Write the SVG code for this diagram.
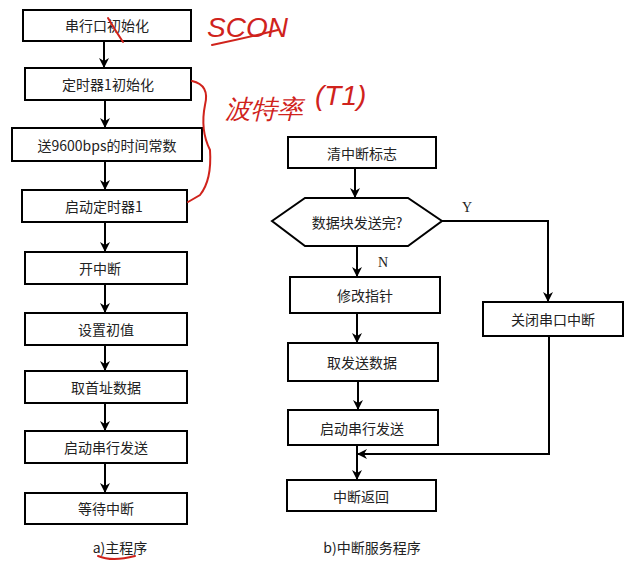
<svg xmlns="http://www.w3.org/2000/svg" width="634" height="575" viewBox="0 0 634 575">
<defs>
<marker id="ah" markerWidth="10" markerHeight="10" refX="9" refY="5" orient="auto" markerUnits="userSpaceOnUse">
<path d="M0,0 L10,5 L0,10 L3,5 Z" fill="#000"/>
</marker>
<style>
.b{fill:#fff;stroke:#000;stroke-width:2}
.t{font-family:"Noto Sans CJK SC","Liberation Serif",serif;font-size:14px;fill:#222;text-anchor:middle;dominant-baseline:central}
.c{fill:none;stroke:#000;stroke-width:2}
.r{fill:none;stroke:#d0231c;stroke-width:2;stroke-linecap:round}
.rt{font-family:"Liberation Sans",sans-serif;fill:#d0231c;font-style:italic}
</style>
</defs>
<rect width="634" height="575" fill="#fff"/>
<g id="n1"><rect class="b" x="23" y="10" width="168" height="31"/><text class="t" x="107" y="25">串行口初始化</text></g>
<g id="n2"><rect class="b" x="25" y="68" width="166" height="32"/><text class="t" x="108" y="84">定时器1初始化</text></g>
<g id="n3"><rect class="b" x="12" y="128" width="190" height="33"/><text class="t" x="107" y="145">送9600bps的时间常数</text></g>
<g id="n4"><rect class="b" x="22" y="190" width="165" height="32"/><text class="t" x="104" y="206">启动定时器1</text></g>
<g id="n5"><rect class="b" x="25" y="252" width="162" height="32"/><text class="t" x="100" y="268">开中断</text></g>
<g id="n6"><rect class="b" x="25" y="313" width="162" height="32"/><text class="t" x="106" y="329">设置初值</text></g>
<g id="n7"><rect class="b" x="25" y="371" width="162" height="32"/><text class="t" x="106" y="387">取首址数据</text></g>
<g id="n8"><rect class="b" x="25" y="431" width="162" height="32"/><text class="t" x="106" y="447">启动串行发送</text></g>
<g id="n9"><rect class="b" x="25" y="493" width="162" height="31"/><text class="t" x="106" y="508">等待中断</text></g>
<g id="r1"><rect class="b" x="288" y="137" width="148" height="31"/><text class="t" x="362" y="153">清中断标志</text></g>
<g id="r2"><polygon class="b" points="272,221 305,198 408,198 442,221 408,246 305,246"/><text class="t" x="357" y="222">数据块发送完?</text></g>
<g id="r3"><rect class="b" x="290" y="277" width="150" height="36"/><text class="t" x="365" y="295">修改指针</text></g>
<g id="r4"><rect class="b" x="483" y="302" width="140" height="34"/><text class="t" x="553" y="319">关闭串口中断</text></g>
<g id="r5"><rect class="b" x="288" y="343" width="150" height="38"/><text class="t" x="362" y="362">取发送数据</text></g>
<g id="r6"><rect class="b" x="288" y="410" width="150" height="35"/><text class="t" x="362" y="428">启动串行发送</text></g>
<g id="r7"><rect class="b" x="287" y="480" width="149" height="31"/><text class="t" x="361" y="496">中断返回</text></g>
<g id="connectors">
<line class="c" x1="104" y1="41" x2="104" y2="67" marker-end="url(#ah)"/>
<line class="c" x1="105" y1="100" x2="105" y2="127" marker-end="url(#ah)"/>
<line class="c" x1="105" y1="161" x2="105" y2="189" marker-end="url(#ah)"/>
<line class="c" x1="105" y1="222" x2="105" y2="251" marker-end="url(#ah)"/>
<line class="c" x1="105" y1="284" x2="105" y2="312" marker-end="url(#ah)"/>
<line class="c" x1="105" y1="345" x2="105" y2="370" marker-end="url(#ah)"/>
<line class="c" x1="105" y1="403" x2="105" y2="430" marker-end="url(#ah)"/>
<line class="c" x1="105" y1="463" x2="105" y2="492" marker-end="url(#ah)"/>
<line class="c" x1="355" y1="168" x2="355" y2="197" marker-end="url(#ah)"/>
<line class="c" x1="357" y1="246" x2="357" y2="276" marker-end="url(#ah)"/>
<polyline class="c" points="442,221 548,221 548,301" marker-end="url(#ah)"/>
<line class="c" x1="357" y1="313" x2="357" y2="342" marker-end="url(#ah)"/>
<line class="c" x1="358" y1="381" x2="358" y2="409" marker-end="url(#ah)"/>
<line class="c" x1="357" y1="445" x2="357" y2="479" marker-end="url(#ah)"/>
<polyline class="c" points="549,336 549,454 358,454" marker-end="url(#ah)"/>
<text x="467" y="212" font-family="Liberation Serif,serif" font-size="14" fill="#222" text-anchor="middle">Y</text>
<text x="383" y="267" font-family="Liberation Serif,serif" font-size="14" fill="#222" text-anchor="middle">N</text>
</g>
<text class="t" x="120" y="547">a)主程序</text>
<text class="t" x="372" y="547">b)中断服务程序</text>
<g id="handwriting">
<path class="r" d="M108,18 Q115,30 123,42"/>
<text class="rt" x="207" y="37" font-size="28">SCON</text>
<path class="r" d="M212,45 Q245,38 278,30"/>
<path class="r" d="M192,81 Q210,85 205,105 Q200,130 210,150 Q212,180 200,195 L188,202"/>
<text class="rt" x="225" y="118" font-size="26">波特率</text>
<text class="rt" x="315" y="105" font-size="28">(T1)</text>
<path class="r" d="M98,556 Q112,562 135,556"/>
</g>
</svg>
